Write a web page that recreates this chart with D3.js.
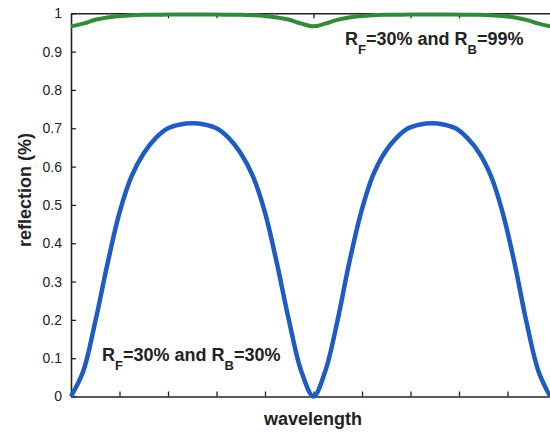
<!DOCTYPE html>
<html>
<head>
<meta charset="utf-8">
<script src="https://cdn.jsdelivr.net/npm/d3@7"></script>
<style>
  body { margin: 0; background: #fff; }
  text { font-family: Arial, "Liberation Sans", sans-serif; fill: #222; }
</style>
</head>
<body>
<div id="graphic"></div>
<script>
// reflection vs wavelength, two mirror configurations

var width = 550, height = 435;

// x positions of samples (arbitrary wavelength units, one tick = 1)
var wl = [0, 0.25, 0.5, 0.75, 1, 1.25, 1.5, 1.75, 2, 2.25, 2.5, 2.75, 3, 3.25, 3.5, 3.75, 4, 4.25, 4.5, 4.75, 5,
          5.24, 5.49, 5.73, 5.98, 6.22, 6.46, 6.71, 6.95, 7.2, 7.44, 7.68, 7.93, 8.17, 8.42, 8.66, 8.9, 9.15, 9.39, 9.64, 9.88];

// R_F = 30%, R_B = 30%
var reflLow = [0, 0.065, 0.195, 0.345, 0.48, 0.575, 0.635, 0.675, 0.7, 0.71, 0.713, 0.71, 0.7, 0.675, 0.635, 0.575, 0.48, 0.345, 0.195, 0.065, 0,
               0.065, 0.195, 0.345, 0.48, 0.575, 0.635, 0.675, 0.7, 0.71, 0.713, 0.71, 0.7, 0.675, 0.635, 0.575, 0.48, 0.345, 0.195, 0.065, 0];

// R_F = 30%, R_B = 99%
var reflHigh = [0.966, 0.973, 0.983, 0.989, 0.993, 0.995, 0.996, 0.996, 0.997, 0.997, 0.997, 0.997, 0.997, 0.996, 0.996, 0.995, 0.993, 0.989, 0.983, 0.973, 0.966,
                0.973, 0.983, 0.989, 0.993, 0.995, 0.996, 0.996, 0.997, 0.997, 0.997, 0.997, 0.997, 0.996, 0.996, 0.995, 0.993, 0.989, 0.983, 0.973, 0.966];

var yTicks = [0, 0.1, 0.2, 0.3, 0.4, 0.5, 0.6, 0.7, 0.8, 0.9, 1];
var xTicks = [1, 2, 3, 4, 5, 6, 7, 8, 9, 10];

var labels = [
    { x: 5.65, y: 0.916, main: "R", sub1: "F", mid: "=30% and R", sub2: "B", end: "=99%" },
    { x: 0.64, y: 0.092, main: "R", sub1: "F", mid: "=30% and R", sub2: "B", end: "=30%" }
];

var x = d3.scaleLinear().domain([0, 10]).range([71, 71 + 485]);
var y = d3.scaleLinear().domain([0, 1]).range([396.5, 13.3]);

var svg = d3.select("#graphic").append("svg")
    .attr("width", width)
    .attr("height", height);

// axes (ticks point inward)
var gx = svg.append("g")
    .attr("transform", "translate(0," + y(0) + ")")
    .call(d3.axisBottom(x).tickValues(xTicks).tickSize(-5).tickSizeOuter(0).tickFormat(""));

var gt = svg.append("g")
    .attr("transform", "translate(0," + y(1) + ")")
    .call(d3.axisTop(x).tickValues(xTicks).tickSize(-5).tickSizeOuter(0).tickFormat(""));

var gy = svg.append("g")
    .attr("transform", "translate(" + x(0) + ",0)")
    .call(d3.axisLeft(y).tickValues(yTicks).tickSize(-5).tickSizeOuter(0).tickPadding(9)
        .tickFormat(function (d) { return d === 0 || d === 1 ? d3.format("d")(d) : d3.format(".1f")(d); }));

svg.selectAll(".domain").attr("stroke", "#222").attr("stroke-width", 1.6);
svg.selectAll(".tick line").attr("stroke", "#222").attr("stroke-width", 1.3);
gy.selectAll("text").style("font-size", "14px").attr("fill", "#222");

// curves
var lineLow = d3.line()
    .x(function (d, i) { return x(wl[i]); })
    .y(function (d) { return y(d); })
    .curve(d3.curveCatmullRom);

svg.append("path")
    .datum(reflHigh)
    .attr("fill", "none")
    .attr("stroke", "#35893a")
    .attr("stroke-width", 4)
    .attr("d", lineLow);

svg.append("path")
    .datum(reflLow)
    .attr("fill", "none")
    .attr("stroke", "#1f5cc2")
    .attr("stroke-width", 4.5)
    .attr("stroke-linejoin", "round")
    .attr("d", lineLow);

// annotations
labels.forEach(function (l) {
    var t = svg.append("text")
        .attr("x", x(l.x))
        .attr("y", y(l.y))
        .style("font-size", "18px")
        .style("font-weight", "bold");
    t.append("tspan").text(l.main);
    t.append("tspan").attr("dy", 9).style("font-size", "13px").text(l.sub1);
    t.append("tspan").attr("dy", -9).text(l.mid);
    t.append("tspan").attr("dy", 9).style("font-size", "13px").text(l.sub2);
    t.append("tspan").attr("dy", -9).text(l.end);
});

// axis titles
svg.append("text")
    .attr("x", 313)
    .attr("y", 425)
    .attr("text-anchor", "middle")
    .style("font-size", "18px")
    .style("font-weight", "bold")
    .text("wavelength");

svg.append("text")
    .attr("transform", "translate(31,190) rotate(-90)")
    .attr("text-anchor", "middle")
    .style("font-size", "18px")
    .style("font-weight", "bold")
    .text("reflection (%)");
</script>
</body>
</html>
